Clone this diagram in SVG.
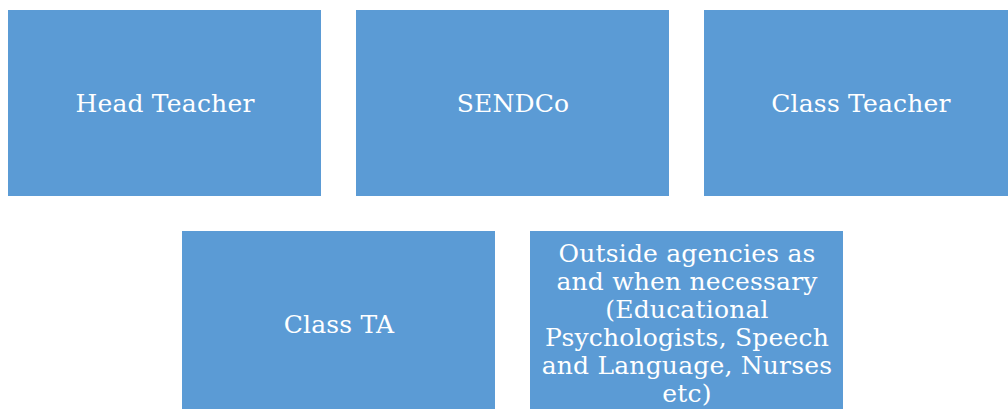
<svg xmlns="http://www.w3.org/2000/svg" width="1008" height="409" viewBox="0 0 1008 409">
<style>
.box{fill:#5B9BD5}
.t{font-family:"DejaVu Serif","Liberation Serif",serif;font-size:25px;letter-spacing:0.2px;fill:#ffffff;text-anchor:middle}
</style>
<rect width="1008" height="409" fill="#ffffff"/>
<g id="connectors"></g>
<g id="head-teacher"><rect class="box" x="8" y="10" width="313" height="186"/><text class="t" x="165" y="112">Head Teacher</text></g>
<g id="sendco"><rect class="box" x="356" y="10" width="313" height="186"/><text class="t" x="513" y="112">SENDCo</text></g>
<g id="class-teacher"><rect class="box" x="704" y="10" width="313" height="186"/><text class="t" x="861" y="112">Class Teacher</text></g>
<g id="class-ta"><rect class="box" x="182" y="231" width="313" height="186"/><text class="t" x="339" y="333">Class TA</text></g>
<g id="outside-agencies"><rect class="box" x="530" y="231" width="313" height="186"/>
<text class="t" x="687" y="262">Outside agencies as</text>
<text class="t" x="687" y="290">and when necessary</text>
<text class="t" x="687" y="318">(Educational</text>
<text class="t" x="687" y="346">Psychologists, Speech</text>
<text class="t" x="687" y="374">and Language, Nurses</text>
<text class="t" x="687" y="402">etc)</text>
</g>
</svg>
